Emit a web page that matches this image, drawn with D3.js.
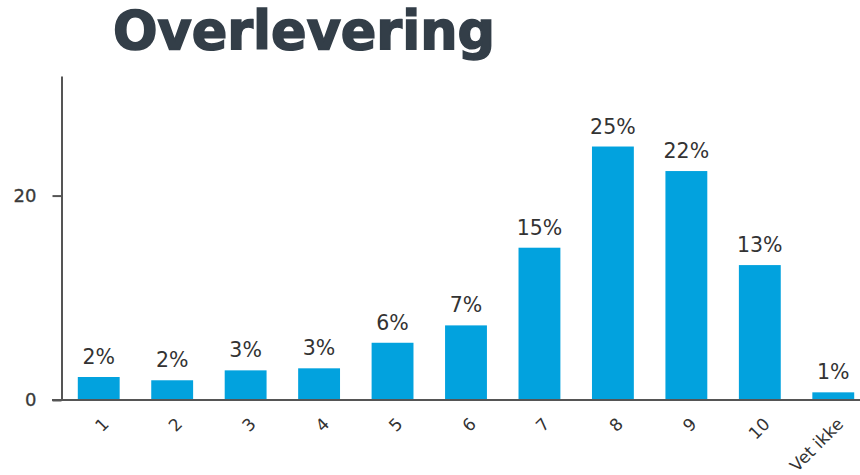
<!DOCTYPE html>
<html>
<head>
<meta charset="utf-8">
<script src="https://cdn.jsdelivr.net/npm/d3@7"></script>
<style>
  html, body { margin: 0; padding: 0; background: #fff; }
  svg { display: block; }
</style>
</head>
<body>
<svg id="chart" width="860" height="475"></svg>
<script>
// Survey answers on a 1–10 scale plus "don't know", share of respondents (%)
const categories = ["1", "2", "3", "4", "5", "6", "7", "8", "9", "10", "Vet ikke"];
const shares = [2.25, 1.93, 2.9, 3.1, 5.6, 7.3, 14.9, 24.8, 22.4, 13.2, 0.75];
const yTicks = [0, 20];
const title = "Overlevering";

const svg = d3.select("#chart");

const x = d3.scaleBand()
  .domain(categories)
  .range([62, 870])
  .paddingInner(0.43)
  .paddingOuter(0.215);

const y = d3.scaleLinear()
  .domain([0, 31.7])
  .range([400, 76]);

const fmt = v => d3.format(".0f")(v) + "%";

// Title
svg.append("text")
  .attr("x", 113)
  .attr("y", 49)
  .attr("font-family", "DejaVu Sans, sans-serif")
  .attr("font-weight", "bold")
  .attr("font-size", 54)
  .attr("textLength", 382)
  .attr("lengthAdjust", "spacingAndGlyphs")
  .attr("fill", "#333e48")
  .attr("stroke", "#333e48")
  .attr("stroke-width", 1.6)
  .text(title);

// Bars
svg.append("g")
  .selectAll("rect")
  .data(categories)
  .join("rect")
  .attr("x", d => x(d))
  .attr("width", x.bandwidth())
  .attr("y", (d, i) => y(shares[i]))
  .attr("height", (d, i) => y(0) - y(shares[i]))
  .attr("fill", "#02a2de");

// Value labels
svg.append("g")
  .selectAll("text")
  .data(categories)
  .join("text")
  .attr("x", d => x(d) + x.bandwidth() / 2)
  .attr("y", (d, i) => y(shares[i]) - 13)
  .attr("text-anchor", "middle")
  .attr("font-family", "DejaVu Sans, sans-serif")
  .attr("font-size", 20.5)
  .attr("fill", "#333")
  .text((d, i) => fmt(shares[i]));

// Y axis
const yAxis = svg.append("g")
  .attr("transform", "translate(61.5,0)")
  .call(d3.axisLeft(y).tickValues(yTicks).tickSize(9).tickPadding(16).tickSizeOuter(0));
yAxis.select(".domain").attr("stroke", "#555").attr("stroke-width", 2);
yAxis.selectAll(".tick line").attr("stroke", "#555").attr("stroke-width", 2);
yAxis.selectAll(".tick text")
  .attr("font-family", "DejaVu Sans, sans-serif")
  .attr("font-size", 18)
  .attr("fill", "#3a3a3a")
  .attr("stroke", "#3a3a3a")
  .attr("stroke-width", 0.3);

// X axis
const xAxis = svg.append("g")
  .attr("transform", "translate(0,400)")
  .call(d3.axisBottom(x).tickSize(0).tickSizeOuter(0));
xAxis.select(".domain")
  .attr("stroke", "#555")
  .attr("stroke-width", 2)
  .attr("d", "M52,0H870");
xAxis.selectAll(".tick text")
  .attr("font-family", "DejaVu Sans, sans-serif")
  .attr("font-size", 17)
  .attr("fill", "#333")
  .attr("text-anchor", "end")
  .attr("dy", "0.35em")
  .attr("y", 0)
  .attr("transform", "translate(7,21) rotate(-45)");
</script>
</body>
</html>
